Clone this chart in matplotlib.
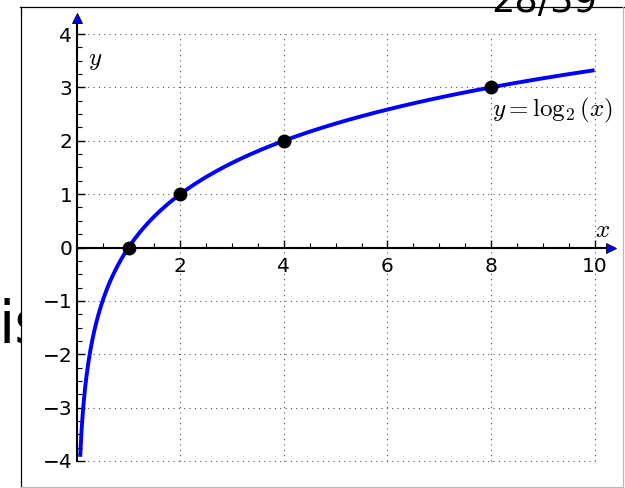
import numpy as np
import matplotlib
matplotlib.use("Agg")
import matplotlib.pyplot as plt
from matplotlib.lines import Line2D
from matplotlib.patches import Rectangle
from matplotlib.ticker import FixedLocator

plt.rcParams['mathtext.fontset'] = 'cm'
plt.rcParams['font.family'] = ['DejaVu Sans']

# Marked points on y = log2(x)
points_x = [1, 2, 4, 8]
points_y = [0, 1, 2, 3]
x_start, x_end = 0.066, 10

x_ticks = [2, 4, 6, 8, 10]
y_ticks = [-4, -3, -2, -1, 0, 1, 2, 3, 4]
x_minor = [v / 2 for v in range(1, 21)]
y_minor = [v / 4 for v in range(-16, 17)]

W, H = 625, 488
fig = plt.figure(figsize=(W / 100, H / 100), dpi=100)
fig.patch.set_facecolor('white')

# Slide text partly hidden behind the figure panel
fig.text(-1 / W, 1 - 343 / H, "is", fontsize=42, ha='left', va='baseline', zorder=1)
fig.add_artist(Rectangle((20.5 / W, 0), 1, 1 - 6.5 / H, transform=fig.transFigure,
                         facecolor='white', edgecolor='none', zorder=2))

# Panel border
top_y = 1 - 6.5 / H
fig.add_artist(Line2D([20.5 / W, 20.5 / W], [0, top_y], transform=fig.transFigure,
                      color='black', lw=0.9, zorder=3))
fig.add_artist(Line2D([20 / W, 1], [top_y, top_y], transform=fig.transFigure,
                      color='black', lw=0.9, zorder=3))
fig.add_artist(Line2D([20.5 / W, 623 / W], [1.3 / H, 1.3 / H], transform=fig.transFigure,
                      color='#b8b8b8', lw=0.9, zorder=3))
fig.add_artist(Line2D([623 / W, 623 / W], [1.3 / H, top_y], transform=fig.transFigure,
                      color='#b8b8b8', lw=0.9, zorder=3))
fig.text(491 / W, 1 - 12 / H, "28/39", fontsize=26.5, ha='left', va='baseline', zorder=10)

# Axes spanning the whole canvas, origin placed inside
ax = fig.add_axes([0, 0, 1, 1], zorder=5)
ax.patch.set_alpha(0)
px_x0, px_per_x = 76.75, 51.78
px_y0, px_per_y = 247.5, 53.375
ax.set_xlim(-px_x0 / px_per_x, (W - px_x0) / px_per_x)
ax.set_ylim((px_y0 - H) / px_per_y, px_y0 / px_per_y)

for side in ('top', 'right'):
    ax.spines[side].set_visible(False)
ax.spines['left'].set_position(('data', 0))
ax.spines['bottom'].set_position(('data', 0))
ax.spines['left'].set_bounds(-4, 4.25)
ax.spines['bottom'].set_bounds(0, 10.25)
for side in ('left', 'bottom'):
    ax.spines[side].set_linewidth(1.5)

ax.set_xticks(x_ticks)
ax.set_yticks(y_ticks)
ax.xaxis.set_minor_locator(FixedLocator(x_minor))
ax.yaxis.set_minor_locator(FixedLocator(y_minor))
ax.tick_params(which='major', direction='in', length=6, width=1, labelsize=14.5)
ax.tick_params(which='minor', direction='in', length=3.5, width=0.8)
ax.tick_params(axis='x', which='major', pad=6.5)
ax.tick_params(axis='y', which='major', pad=3.2)

# Dotted grid
dots = (0, (1, 3.8))
ax.hlines(y_ticks, 0, 10, colors='#555555', linestyles=dots, lw=0.8, zorder=1)
ax.vlines(x_ticks, -4, 4, colors='#555555', linestyles=dots, lw=0.8, zorder=1)

# Axis arrowheads
ax.plot([10.32], [0], marker='>', ms=7, mfc='blue', mec='black', mew=0.6,
        clip_on=False, zorder=6)
ax.plot([0], [4.30], marker='^', ms=7, mfc='blue', mec='black', mew=0.6,
        clip_on=False, zorder=6)

# Curve and points
xs = np.linspace(x_start, x_end, 800)
ax.plot(xs, np.log2(xs), color='blue', lw=2.8, zorder=3, solid_capstyle='butt')
ax.plot(points_x, points_y, 'o', color='black', ms=9, zorder=4)

ax.text(0.22, 3.74, r'$y$', fontsize=18, ha='left', va='top')
ax.text(10.0, 0.197, r'$x$', fontsize=18, ha='left', va='baseline')
ax.text(8.02, 2.84, r'$y=\log_2(x)$', fontsize=18, ha='left', va='top')

fig.savefig('out.png', dpi=100)
